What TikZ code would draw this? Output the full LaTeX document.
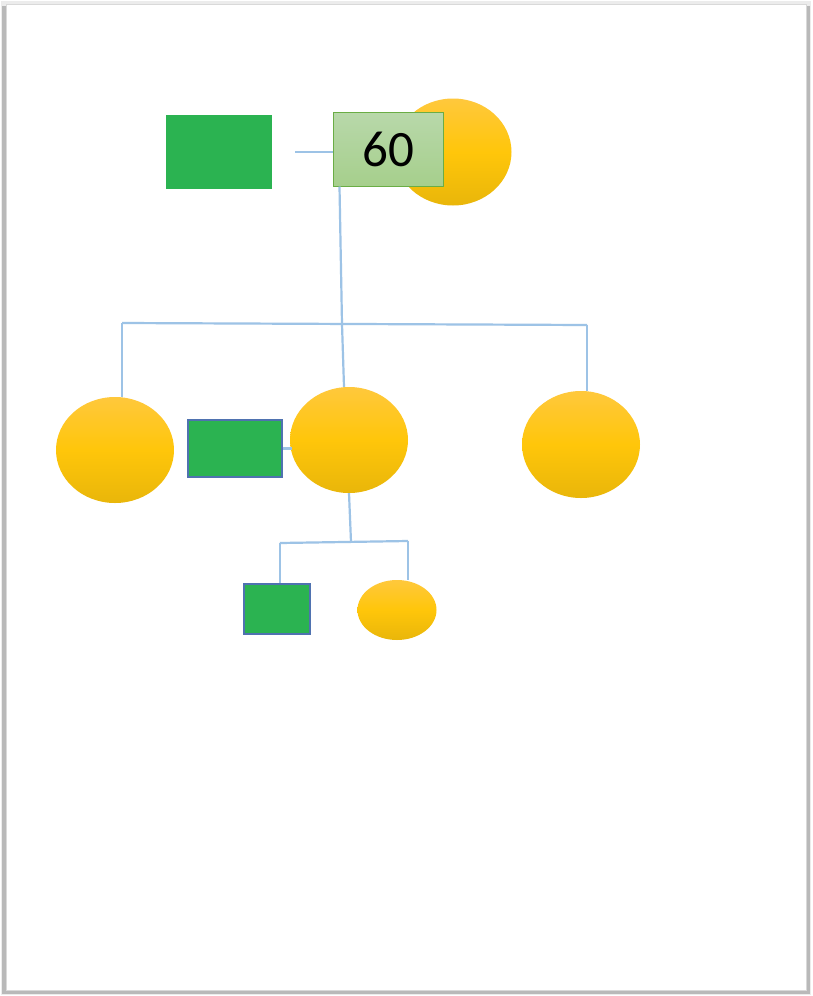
\documentclass[tikz,border=0pt]{standalone}
\usepackage{fontspec}
\setmainfont{Carlito}
\usetikzlibrary{shapes.geometric}
\definecolor{lineblue}{HTML}{9DC3E6}
\definecolor{boxgreen}{HTML}{2BB351}
\definecolor{boxedge}{HTML}{4F72B0}
\definecolor{ytop}{HTML}{FFC83C}
\definecolor{ymid}{HTML}{FFC60A}
\definecolor{ybot}{HTML}{E9B60A}
\definecolor{lgtop}{HTML}{B8D8AA}
\definecolor{lgbot}{HTML}{A6CF8C}
\definecolor{lgedge}{HTML}{6AAD45}
\tikzset{
  ycirc/.style={ellipse, inner sep=0pt, draw=none,
    top color=ytop, bottom color=ybot, middle color=ymid},
  gbox/.style={rectangle, inner sep=0pt, fill=boxgreen, draw=boxedge, line width=1.2pt},
  gboxplain/.style={rectangle, inner sep=0pt, fill=boxgreen},
  conn/.style={draw=lineblue, line width=2.2pt},
}
\begin{document}
\begin{tikzpicture}[x=1pt,y=-1pt]
\useasboundingbox (0,0) rectangle (812,996);
% page with shadow
\fill[gray!15] (1,1) rectangle (811,995);
\fill[gray!55] (2,6) rectangle (810,994);
\fill[white] (6,4) rectangle (806,990);
\draw[gray!30, line width=0.6pt] (6,4) rectangle (806,990);

% top row
\node[gboxplain, minimum width=106pt, minimum height=74pt] (g1) at (219,152) {};
\node[ycirc, minimum width=117pt, minimum height=107pt] (ct) at (453,152) {};
\node[rectangle, inner sep=0pt, top color=lgtop, bottom color=lgbot, draw=lgedge, line width=1pt,
      minimum width=110pt, minimum height=74pt, font=\fontsize{51}{55}\selectfont] (b60) at (388,149) {60};

% middle row
\node[ycirc, minimum width=118pt, minimum height=106pt] (c1) at (115,450) {};
\node[gbox, minimum width=94pt, minimum height=57pt] (g2) at (235,448.5) {};
\node[ycirc, minimum width=118pt, minimum height=106pt] (c2) at (349,440) {};
\node[ycirc, minimum width=118pt, minimum height=107pt] (c3) at (581,444.5) {};

% bottom row
\node[gbox, minimum width=66pt, minimum height=50pt] (g3) at (277,609) {};
\node[ycirc, minimum width=79pt, minimum height=60pt] (c4) at (397,610) {};

% junctions
\coordinate (j1) at (342,324);
\coordinate (bl) at (122,323);
\coordinate (br) at (587,325);
\coordinate (j2) at (351,542);
\coordinate (bl2) at (280,543);
\coordinate (br2) at (408,541);

% connectors
\draw[conn, shorten <=23pt] (g1.east) -- (g1.east -| b60.west);
\draw[conn] ([xshift=7pt]b60.south west) -- (j1);
\draw[conn] (bl) -- (br);
\draw[conn] (bl) -- (bl |- c1.north);
\draw[conn] (j1) -- ([xshift=-5pt]c2.north);
\draw[conn] (br) -- (br |- c3.north);
\draw[conn] (g2.east) -- ([xshift=9pt]g2.east);
\draw[conn] (c2.south) -- (j2);
\draw[conn] (bl2) -- (br2);
\draw[conn] (bl2) -- (bl2 |- g3.north);
\draw[conn] (br2) -- (br2 |- c4.north);
\end{tikzpicture}
\end{document}
